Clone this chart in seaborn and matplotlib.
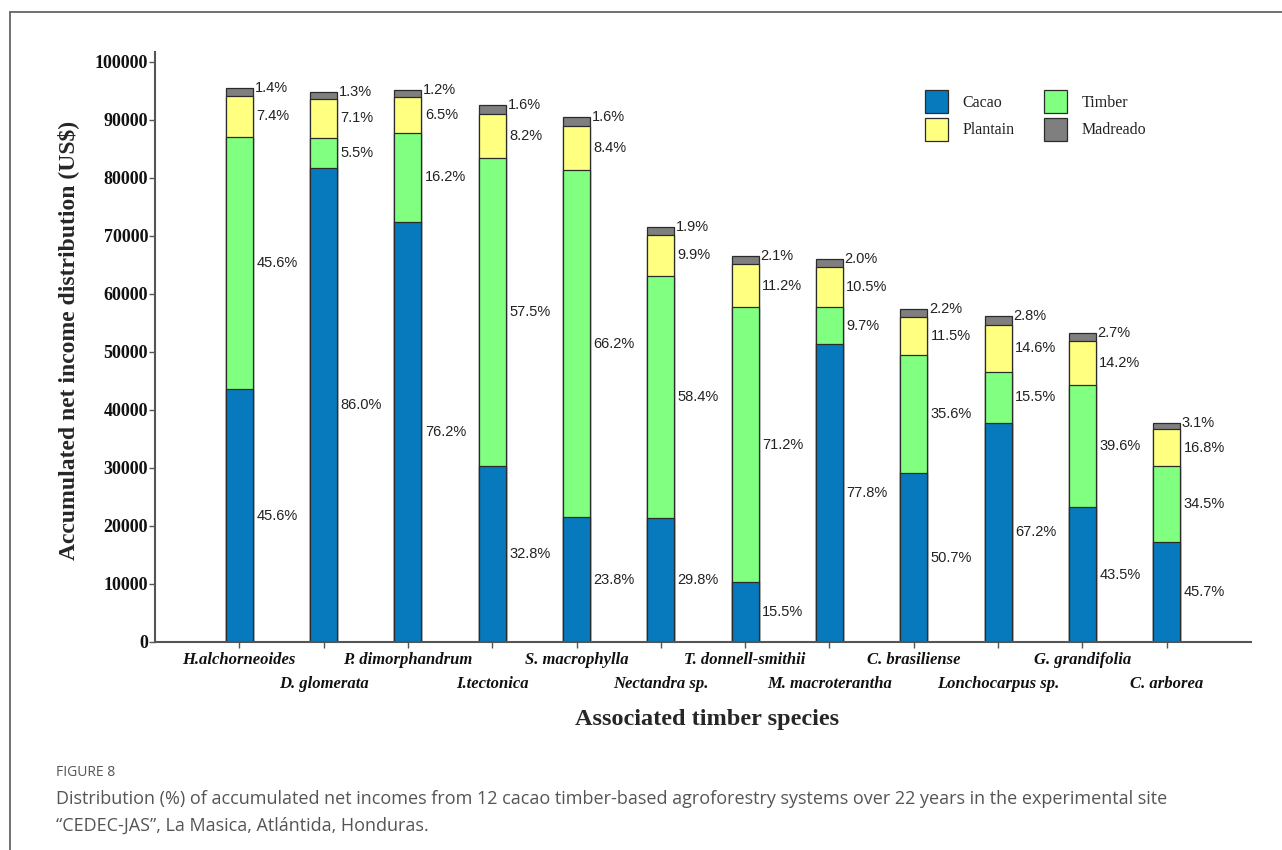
import seaborn as sns
import pandas as pd
import numpy as np
import matplotlib.pyplot as plt
from matplotlib.patches import Patch
from matplotlib.lines import Line2D

# associated timber species (x axis)
species = ["H.alchorneoides", "D. glomerata", "P. dimorphandrum", "I.tectonica",
           "S. macrophylla", "Nectandra sp.", "T. donnell-smithii", "M. macroterantha",
           "C. brasiliense", "Lonchocarpus sp.", "G. grandifolia", "C. arborea"]

# accumulated net income per component (US$)
cacao    = [43550, 81700, 72400, 30300, 21500, 21300, 10300, 51300, 29100, 37800, 23200, 17300]
timber   = [43550,  5200, 15400, 53100, 59900, 41800, 47400,  6400, 20400,  8700, 21100, 13000]
plantain = [ 7070,  6750,  6200,  7600,  7600,  7100,  7460,  6930,  6600,  8200,  7580,  6350]
madreado = [ 1340,  1240,  1140,  1480,  1450,  1360,  1400,  1320,  1260,  1570,  1440,  1170]

# percentage labels printed next to each segment
pct_cacao    = ["45.6%", "86.0%", "76.2%", "32.8%", "23.8%", "29.8%", "15.5%", "77.8%", "50.7%", "67.2%", "43.5%", "45.7%"]
pct_timber   = ["45.6%", "5.5%", "16.2%", "57.5%", "66.2%", "58.4%", "71.2%", "9.7%", "35.6%", "15.5%", "39.6%", "34.5%"]
pct_plantain = ["7.4%", "7.1%", "6.5%", "8.2%", "8.4%", "9.9%", "11.2%", "10.5%", "11.5%", "14.6%", "14.2%", "16.8%"]
pct_madreado = ["1.4%", "1.3%", "1.2%", "1.6%", "1.6%", "1.9%", "2.1%", "2.0%", "2.2%", "2.8%", "2.7%", "3.1%"]

yticks = [0, 10000, 20000, 30000, 40000, 50000, 60000, 70000, 80000, 90000, 100000]

colors = {"Cacao": "#067ABD", "Timber": "#80FF80", "Plantain": "#FFFF80", "Madreado": "#7F7F7F"}

df = pd.DataFrame({"species": species, "cacao": cacao, "timber": timber,
                   "plantain": plantain, "madreado": madreado})
df["top_cacao"] = df["cacao"]
df["top_timber"] = df["top_cacao"] + df["timber"]
df["top_plantain"] = df["top_timber"] + df["plantain"]
df["top_madreado"] = df["top_plantain"] + df["madreado"]

sns.set_style("ticks")
plt.rcParams["font.family"] = ["Liberation Serif", "DejaVu Serif"]

fig = plt.figure(figsize=(12.82, 8.5), dpi=100)
ax = fig.add_axes([155 / 1282, 1 - 642 / 850, 1096 / 1282, 590 / 850])

edge = "#2b2b2b"
bw = 0.32
# stacked bars drawn as layered cumulative totals
for col, name in [("top_madreado", "Madreado"), ("top_plantain", "Plantain"),
                  ("top_timber", "Timber"), ("top_cacao", "Cacao")]:
    sns.barplot(data=df, x="species", y=col, order=species, color=colors[name],
                saturation=1, width=bw, edgecolor=edge, linewidth=0.9, ax=ax)

# percentage labels
lab_kw = dict(ha="left", va="center", fontsize=10.5, color="#222222",
              family=["Liberation Sans", "DejaVu Sans"])
for i in range(len(species)):
    x = i + bw / 2 + 0.04
    ax.text(x, df["top_cacao"][i] / 2, pct_cacao[i], **lab_kw)
    ax.text(x, (df["top_cacao"][i] + df["top_timber"][i]) / 2, pct_timber[i], **lab_kw)
    ax.text(x, (df["top_timber"][i] + df["top_plantain"][i]) / 2, pct_plantain[i], **lab_kw)
    ax.text(i + bw / 2 + 0.02, df["top_madreado"][i], pct_madreado[i], **lab_kw)

ax.set_xlim(-1, 12)
ax.set_ylim(0, 101700)
ax.set_yticks(yticks)
ax.set_yticklabels([str(v) for v in yticks], fontsize=13, fontweight="bold")
ax.set_xticks(range(len(species)))
ax.set_xticklabels([])
# staggered species names in two rows
for i, s in enumerate(species):
    ax.text(i, -0.0305 if i % 2 == 0 else -0.0712, s, transform=ax.get_xaxis_transform(),
            ha="center", va="center", fontsize=12, fontweight="bold", fontstyle="italic",
            color="#111111")
ax.set_xlabel("")
ax.set_ylabel("")
sns.despine(ax=ax)
for sp in ["left", "bottom"]:
    ax.spines[sp].set_color("#555555")
    ax.spines[sp].set_linewidth(1.5)
ax.tick_params(axis="both", color="#555555", length=4, width=1, pad=1, labelcolor="#111111")

fig.text(68 / 1282, 1 - 340 / 850, "Accumulated net income distribution (US$)",
         rotation=90, ha="center", va="center", fontsize=17, fontweight="bold")
fig.text(707 / 1282, 1 - 719 / 850, "Associated timber species",
         ha="center", va="center", fontsize=17.5, fontweight="bold")

handles = [Patch(facecolor=colors[n], edgecolor=edge, linewidth=0.9)
           for n in ["Cacao", "Plantain", "Timber", "Madreado"]]
leg = fig.legend(handles, ["Cacao", "Plantain", "Timber", "Madreado"], ncol=2,
                 loc="upper left", bbox_to_anchor=(925 / 1282, 1 - 90 / 850),
                 frameon=False, fontsize=11.5, handlelength=1.44, handleheight=1.835,
                 labelspacing=0.29, handletextpad=0.9, columnspacing=1.85,
                 borderpad=0, borderaxespad=0)
for t in leg.get_texts():
    t.set_color("#222222")

# outer frame and caption
fig.add_artist(Line2D([10 / 1282, 10 / 1282], [0, 1 - 12 / 850], color="#666666", lw=1.3))
fig.add_artist(Line2D([10 / 1282, 1], [1 - 12 / 850, 1 - 12 / 850], color="#666666", lw=1.3))
cap_kw = dict(ha="left", va="center", color="#555555", family=["Open Sans", "DejaVu Sans"])
fig.text(56 / 1282, 1 - 772 / 850, "FIGURE 8", fontsize=10, **cap_kw)
fig.text(56 / 1282, 1 - 799 / 850,
         "Distribution (%) of accumulated net incomes from 12 cacao timber-based agroforestry "
         "systems over 22 years in the experimental site", fontsize=13, **cap_kw)
fig.text(56 / 1282, 1 - 826 / 850, "\u201cCEDEC-JAS\u201d, La Masica, Atl\u00e1ntida, Honduras.",
         fontsize=13, **cap_kw)

fig.savefig("out.png", dpi=100)
